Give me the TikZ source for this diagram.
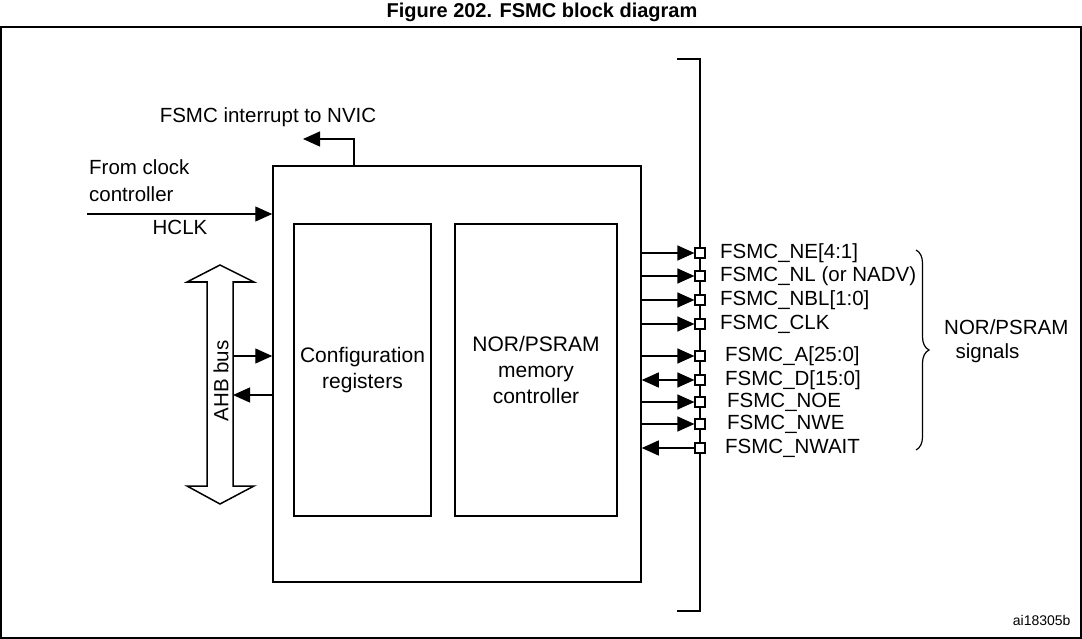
\documentclass[tikz,border=0pt]{standalone}
\usepackage{fontspec}
\setmainfont{Liberation Sans}
\usetikzlibrary{positioning,calc,arrows.meta,decorations.pathreplacing}

\begin{document}
\begin{tikzpicture}[
        x=1pt, y=-1pt,
        txt/.style={font=\fontsize{20.5}{24}\selectfont, inner sep=0pt},
        blk/.style={rectangle, draw, line width=1.5pt, align=center, font=\fontsize{21}{26}\selectfont},
        pin/.style={rectangle, draw, fill=white, line width=1.2pt, minimum size=10pt, inner sep=0pt},
        arrow/.style={-{Triangle[length=17pt,width=15pt]}, line width=1.2pt},
        arrow-both/.style={{Triangle[length=17pt,width=15pt]}-{Triangle[length=17pt,width=15pt]}, line width=1.2pt}
    ]
    \useasboundingbox (0,0) rectangle (1082,639);

    % Title and frame
    \node[font=\fontsize{20}{22}\selectfont\bfseries] (title) at (542,12) {Figure 202. FSMC block diagram};
    \draw[line width=1.5pt] (1,27) -- (1,638) -- (1081,638) -- (1081,27) -- cycle;
    \node[font=\fontsize{14}{16}\selectfont, anchor=east] (ref) at (1074,620) {ai18305b};

    % Blocks
    \node[blk, minimum width=368pt, minimum height=416pt] (fsmc) at (457,374) {};
    \node[blk, minimum width=137pt, minimum height=292pt] (cfg) at (362.5,370) {Configuration\\registers};
    \node[blk, minimum width=162pt, minimum height=292pt] (nor) at (536,370) {NOR/PSRAM\\memory\\controller};

    % Interrupt and clock
    \coordinate (nvic) at (303,139);
    \node[txt] (irq) at (268,117) {FSMC interrupt to NVIC};
    \draw[arrow] (fsmc.north -| 354,0) |- (nvic);
    \coordinate (clk) at (87,214);
    \node[txt, align=left, anchor=west, font=\fontsize{20.5}{27}\selectfont] (from) at (89,181) {From clock\\controller};
    \node[txt] (hclk) at (180,227) {HCLK};
    \draw[arrow] (clk) -- (clk -| fsmc.west);

    % AHB bus
    \draw[line width=1.5pt] (220,265) -- (254,282) -- (233,282) -- (233,486) -- (254,486) -- (220,504)
        -- (187,486) -- (207,486) -- (207,282) -- (187,282) -- cycle;
    \node[txt, rotate=90] (ahb) at (221,381) {AHB bus};
    \coordinate (ahbE) at (233,370);
    \draw[arrow] (ahbE |- 0,356) -- (fsmc.west |- 0,356);
    \draw[arrow] (fsmc.west |- 0,395) -- (ahbE |- 0,395);

    % Signal bus
    \draw[line width=2.5pt] (677,59) -- (700,59) -- (700,611) -- (677,611);
    \foreach \i/\y/\lbl/\kind/\dx in {
        0/253/{FSMC\_NE[4:1]}/out/0,
        1/276/{FSMC\_NL (or NADV)}/out/0,
        2/300/{FSMC\_NBL[1:0]}/out/0,
        3/324/{FSMC\_CLK}/out/0,
        4/356/{FSMC\_A[25:0]}/out/5,
        5/380/{FSMC\_D[15:0]}/both/5,
        6/402/{FSMC\_NOE}/out/7,
        7/424/{FSMC\_NWE}/out/7,
        8/448/{FSMC\_NWAIT}/in/5} {
        \node[pin] (pin\i) at (700,\y) {};
        \node[txt, anchor=west] (sig\i) at (720+\dx,\y) {\lbl};
        \ifnum\pdfstrcmp{\kind}{out}=0
            \draw[arrow] (fsmc.east |- pin\i) -- (pin\i.west);
        \else\ifnum\pdfstrcmp{\kind}{both}=0
            \draw[arrow-both] (fsmc.east |- pin\i) -- (pin\i.west);
        \else
            \draw[arrow] (pin\i.west) -- (fsmc.east |- pin\i);
        \fi\fi
    }

    % Brace
    \draw[line width=1.2pt, decorate, decoration={brace, amplitude=13pt}] (916,250) -- (916,450);
    \node[txt, anchor=west, align=left, font=\fontsize{20.5}{24}\selectfont] (grp) at (944,341) {NOR/PSRAM\\\ \ signals};

\end{tikzpicture}
\end{document}
